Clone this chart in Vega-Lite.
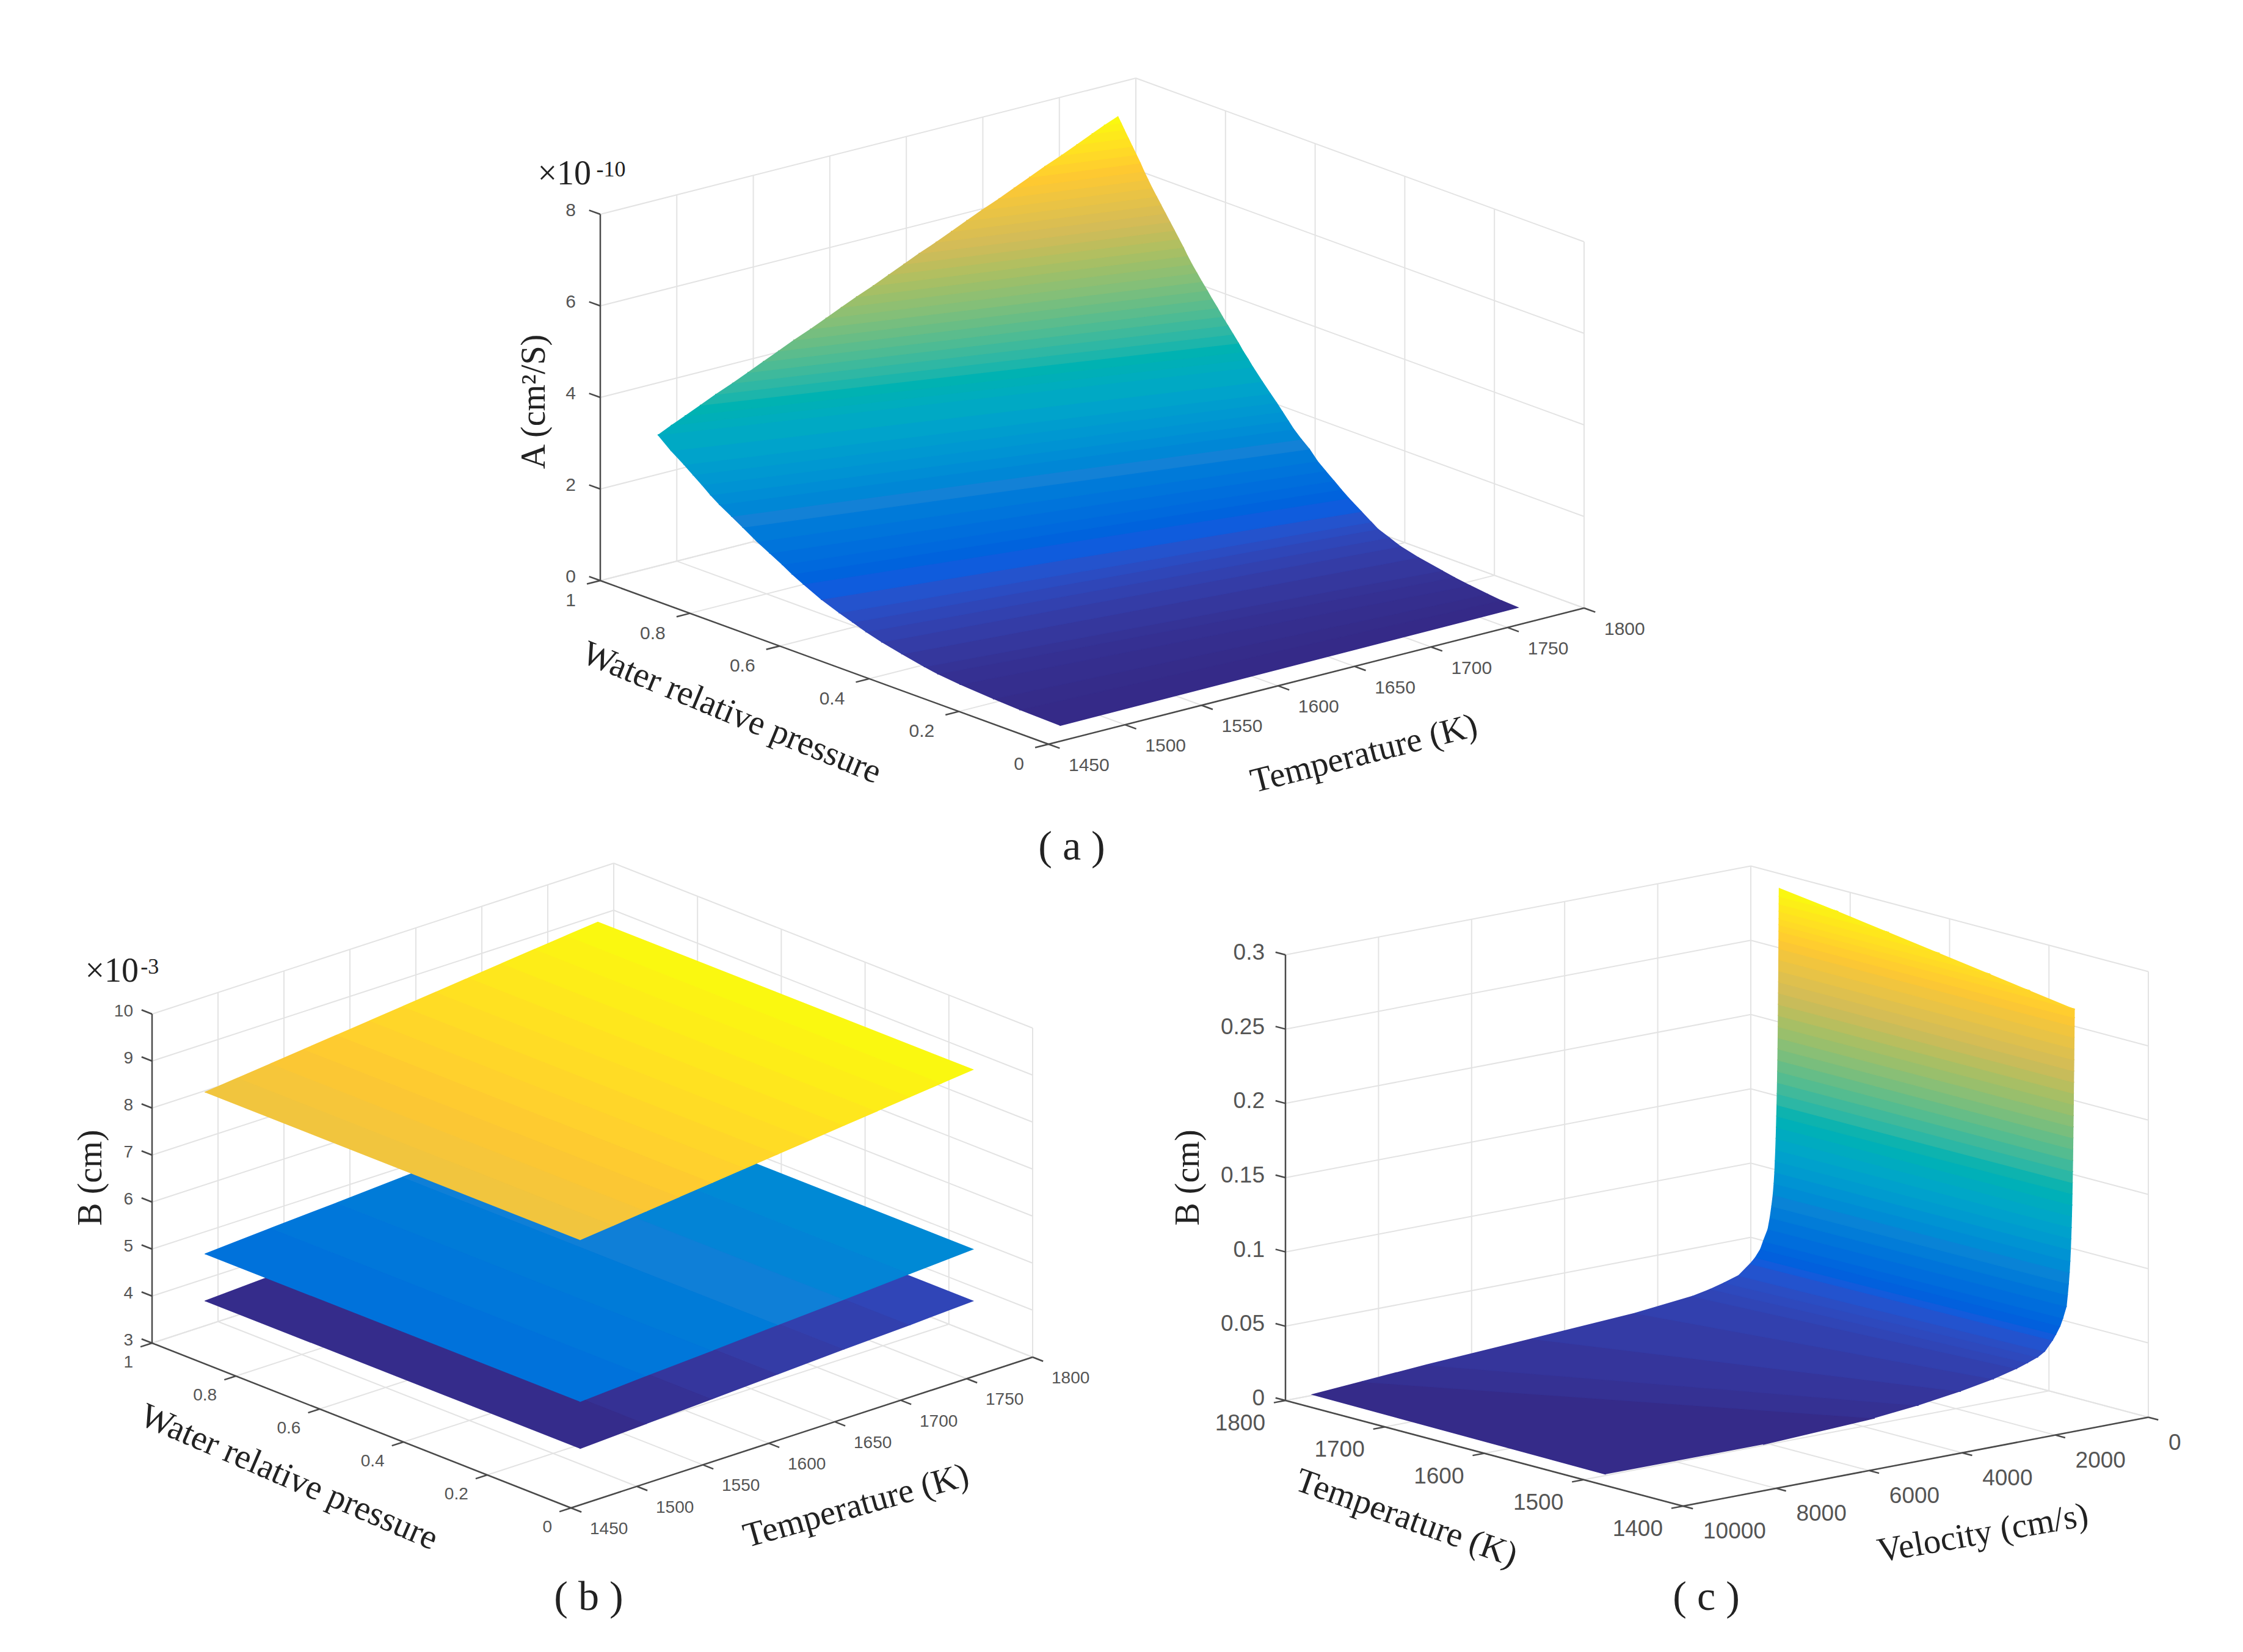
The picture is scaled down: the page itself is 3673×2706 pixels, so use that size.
{"$schema":"https://vega.github.io/schema/vega-lite/v6.json","width":3673,"height":2706,"padding":0,"autosize":{"type":"fit","contains":"padding"},"background":"white","config":{"view":{"stroke":null}},
"params":[{"name":"pv","value":{
"a":{"u0":1717,"v0":1219,"ux":877,"vx":-223,"uy":-734,"vy":-268,"vz":600,"x0":1450,"x1":1800,"y0":0,"y1":1,"z0":0,"z1":8,"c0":0,"c1":7.54,"fs":30,"l":{"x":[33,35],"y":[-40,33],"z":[-40,-6]},"n":{"tx":[0.318,-0.324,0,345.7,57],"ty":[-0.255,0.4025,0,22.5,57],"tz":[-0.123,1,0.534,270,56],"e1":[-0.067,1,1.135,0,56],"e2":[0.02,1,1.115,0,36],"cap":[-0.2856,-0.393,0,0,68]}},
"b":{"u0":935,"v0":2470,"ux":756,"vx":-247,"uy":-686,"vy":-270,"vz":539,"x0":1450,"x1":1800,"y0":0,"y1":1,"z0":3,"z1":10,"c0":3.81,"c1":9.14,"fs":28,"l":{"x":[31,35],"y":[-31,32],"z":[-31,-4]},"n":{"tx":[0.343,-0.3027,0,344.3,57],"ty":[-0.242,0.4067,0,23.3,57],"tz":[-0.132,1,0.563,270,56],"e1":[-0.087,1,1.17,0,56],"e2":[-0.005,1,1.145,0,36],"cap":[-0.249,-0.3167,0,0,68]}},
"c":{"u0":2756,"v0":2467,"ux":762,"vx":-145.5,"uy":-651,"vy":-173,"vz":730,"x0":10000,"x1":0,"y0":1400,"y1":1800,"z0":0,"z1":0.3,"c0":0.0085,"c1":0.2907,"fs":37,"l":{"x":[33,42],"y":[-33,38],"z":[-34,-3]},"n":{"tx":[0.2456,-0.4667,0,350,57],"ty":[-0.4034,0.2237,0,19.5,57],"tz":[-0.2087,1,0.5416,270,56],"cap":[-0.402,-0.529,0,0,68]}}
}}],
"layer":[
{"data":{"values":[
{"g":"a","k":"x","val":1450},{"g":"a","k":"x","val":1500},{"g":"a","k":"x","val":1550},{"g":"a","k":"x","val":1600},{"g":"a","k":"x","val":1650},{"g":"a","k":"x","val":1700},{"g":"a","k":"x","val":1750},{"g":"a","k":"x","val":1800},
{"g":"a","k":"y","val":0},{"g":"a","k":"y","val":0.2},{"g":"a","k":"y","val":0.4},{"g":"a","k":"y","val":0.6},{"g":"a","k":"y","val":0.8},{"g":"a","k":"y","val":1},
{"g":"a","k":"z","val":0},{"g":"a","k":"z","val":2},{"g":"a","k":"z","val":4},{"g":"a","k":"z","val":6},{"g":"a","k":"z","val":8},
{"g":"b","k":"x","val":1450},{"g":"b","k":"x","val":1500},{"g":"b","k":"x","val":1550},{"g":"b","k":"x","val":1600},{"g":"b","k":"x","val":1650},{"g":"b","k":"x","val":1700},{"g":"b","k":"x","val":1750},{"g":"b","k":"x","val":1800},
{"g":"b","k":"y","val":0},{"g":"b","k":"y","val":0.2},{"g":"b","k":"y","val":0.4},{"g":"b","k":"y","val":0.6},{"g":"b","k":"y","val":0.8},{"g":"b","k":"y","val":1},
{"g":"b","k":"z","val":3},{"g":"b","k":"z","val":4},{"g":"b","k":"z","val":5},{"g":"b","k":"z","val":6},{"g":"b","k":"z","val":7},{"g":"b","k":"z","val":8},{"g":"b","k":"z","val":9},{"g":"b","k":"z","val":10},
{"g":"c","k":"x","val":10000},{"g":"c","k":"x","val":8000},{"g":"c","k":"x","val":6000},{"g":"c","k":"x","val":4000},{"g":"c","k":"x","val":2000},{"g":"c","k":"x","val":0},
{"g":"c","k":"y","val":1400},{"g":"c","k":"y","val":1500},{"g":"c","k":"y","val":1600},{"g":"c","k":"y","val":1700},{"g":"c","k":"y","val":1800},
{"g":"c","k":"z","val":0},{"g":"c","k":"z","val":0.05},{"g":"c","k":"z","val":0.1},{"g":"c","k":"z","val":0.15},{"g":"c","k":"z","val":0.2},{"g":"c","k":"z","val":0.25},{"g":"c","k":"z","val":0.3}
]},
"transform":[
{"calculate":"pv[datum.g]","as":"V"},
{"calculate":"''+datum.val","as":"label"},
{"calculate":"datum.k=='x'?(datum.val-datum.V.x0)/(datum.V.x1-datum.V.x0):datum.k=='y'?(datum.val-datum.V.y0)/(datum.V.y1-datum.V.y0):(datum.val-datum.V.z0)/(datum.V.z1-datum.V.z0)","as":"f"},
{"calculate":"datum.k=='x'?datum.f:0","as":"ax"},
{"calculate":"datum.k=='x'?0:datum.k=='y'?datum.f:1","as":"ay"},
{"calculate":"datum.k=='z'?datum.f:0","as":"az"},
{"calculate":"datum.k=='x'?datum.f:1","as":"bx"},
{"calculate":"datum.k=='x'?1:datum.k=='y'?datum.f:1","as":"by"},
{"calculate":"datum.k=='x'?1:datum.k=='y'?datum.f:0","as":"cy"},
{"calculate":"datum.k=='z'?datum.f:1","as":"cz"},
{"calculate":"datum.k=='y'?-0.025:datum.ax","as":"dx"},
{"calculate":"datum.k=='x'?-0.025:datum.k=='z'?1.025:datum.ay","as":"dy"},
{"calculate":"datum.V.u0+datum.V.ux*datum.ax+datum.V.uy*datum.ay","as":"ua"},
{"calculate":"datum.V.v0+datum.V.vx*datum.ax+datum.V.vy*datum.ay-datum.V.vz*datum.az","as":"va"},
{"calculate":"datum.V.u0+datum.V.ux*datum.bx+datum.V.uy*datum.by","as":"ub"},
{"calculate":"datum.V.v0+datum.V.vx*datum.bx+datum.V.vy*datum.by-datum.V.vz*datum.az","as":"vb"},
{"calculate":"datum.V.u0+datum.V.ux*datum.bx+datum.V.uy*datum.cy","as":"uc"},
{"calculate":"datum.V.v0+datum.V.vx*datum.bx+datum.V.vy*datum.cy-datum.V.vz*datum.cz","as":"vc"},
{"calculate":"datum.V.u0+datum.V.ux*datum.dx+datum.V.uy*datum.dy","as":"ud"},
{"calculate":"datum.V.v0+datum.V.vx*datum.dx+datum.V.vy*datum.dy-datum.V.vz*datum.az","as":"vd"},
{"calculate":"datum.V.u0+(datum.k=='x'?datum.V.ux:datum.V.uy)","as":"ue"},
{"calculate":"datum.V.v0+(datum.k=='x'?datum.V.vx:datum.V.vy)-(datum.k=='z'?datum.V.vz:0)","as":"ve"},
{"calculate":"datum.ua+datum.V.l[datum.k][0]","as":"lu"},
{"calculate":"datum.va+datum.V.l[datum.k][1]","as":"lv"}
],
"layer":[
{"mark":{"type":"rule","color":"#e3e3e3","strokeWidth":2},"encoding":{"x":{"field":"ua","type":"quantitative","scale":{"domain":[0,3673],"nice":false,"zero":false},"axis":null},"y":{"field":"va","type":"quantitative","scale":{"domain":[2706,0],"nice":false,"zero":false},"axis":null},"x2":{"field":"ub"},"y2":{"field":"vb"}}},
{"mark":{"type":"rule","color":"#e3e3e3","strokeWidth":2},"encoding":{"x":{"field":"ub","type":"quantitative","scale":{"domain":[0,3673],"nice":false,"zero":false},"axis":null},"y":{"field":"vb","type":"quantitative","scale":{"domain":[2706,0],"nice":false,"zero":false},"axis":null},"x2":{"field":"uc"},"y2":{"field":"vc"}}},
{"transform":[{"filter":"datum.f==0"}],"mark":{"type":"rule","color":"#4a4a4a","strokeWidth":2.5},"encoding":{"x":{"field":"ua","type":"quantitative","scale":{"domain":[0,3673],"nice":false,"zero":false},"axis":null},"y":{"field":"va","type":"quantitative","scale":{"domain":[2706,0],"nice":false,"zero":false},"axis":null},"x2":{"field":"ue"},"y2":{"field":"ve"}}},
{"mark":{"type":"rule","color":"#4a4a4a","strokeWidth":2.5},"encoding":{"x":{"field":"ua","type":"quantitative","scale":{"domain":[0,3673],"nice":false,"zero":false},"axis":null},"y":{"field":"va","type":"quantitative","scale":{"domain":[2706,0],"nice":false,"zero":false},"axis":null},"x2":{"field":"ud"},"y2":{"field":"vd"}}},
{"transform":[{"filter":"datum.k=='x'"}],"mark":{"type":"text","align":"left","baseline":"middle","font":"Liberation Sans","color":"#555555"},"encoding":{"x":{"field":"lu","type":"quantitative","scale":{"domain":[0,3673],"nice":false,"zero":false},"axis":null},"y":{"field":"lv","type":"quantitative","scale":{"domain":[2706,0],"nice":false,"zero":false},"axis":null},"text":{"field":"label"},"size":{"field":"V.fs","type":"quantitative","scale":null}}},
{"transform":[{"filter":"datum.k!='x'"}],"mark":{"type":"text","align":"right","baseline":"middle","font":"Liberation Sans","color":"#555555"},"encoding":{"x":{"field":"lu","type":"quantitative","scale":{"domain":[0,3673],"nice":false,"zero":false},"axis":null},"y":{"field":"lv","type":"quantitative","scale":{"domain":[2706,0],"nice":false,"zero":false},"axis":null},"text":{"field":"label"},"size":{"field":"V.fs","type":"quantitative","scale":null}}}
]},
{"data":{"values":[
{"g":"a","m":0.01,"x":[1474,1775,1775,1474],"y":[0.057,0.0625,0.1,0.147],"z":[0,0,0.02,0.02]},
{"g":"a","m":0.035,"x":[1474,1775,1775,1474],"y":[0.147,0.1,0.13,0.206],"z":[0.02,0.02,0.05,0.05]},
{"g":"a","m":0.075,"x":[1474,1775,1775,1474],"y":[0.206,0.13,0.17,0.28],"z":[0.05,0.05,0.1,0.1]},
{"g":"a","m":0.125,"x":[1474,1775,1775,1474],"y":[0.28,0.17,0.205,0.33],"z":[0.1,0.1,0.15,0.15]},
{"g":"a","m":0.175,"x":[1474,1775,1775,1474],"y":[0.33,0.205,0.232,0.36],"z":[0.15,0.15,0.2,0.2]},
{"g":"a","m":0.25,"x":[1474,1775,1775,1474],"y":[0.36,0.232,0.285,0.41],"z":[0.2,0.2,0.3,0.3]},
{"g":"a","m":0.35,"x":[1474,1775,1775,1474],"y":[0.41,0.285,0.325,0.455],"z":[0.3,0.3,0.4,0.4]},
{"g":"a","m":0.45,"x":[1474,1775,1775,1474],"y":[0.455,0.325,0.35,0.49],"z":[0.4,0.4,0.5,0.5]},
{"g":"a","m":0.55,"x":[1474,1775,1775,1474],"y":[0.49,0.35,0.375,0.52],"z":[0.5,0.5,0.6,0.6]},
{"g":"a","m":0.65,"x":[1474,1775,1775,1474],"y":[0.52,0.375,0.39,0.55],"z":[0.6,0.6,0.7,0.7]},
{"g":"a","m":0.775,"x":[1474,1775,1775,1474],"y":[0.55,0.39,0.412,0.59],"z":[0.7,0.7,0.85,0.85]},
{"g":"a","m":0.945,"x":[1474,1775,1775,1474],"y":[0.59,0.412,0.44,0.63],"z":[0.85,0.85,1.04,1.04]},
{"g":"a","m":1.105,"x":[1474,1775,1775,1474],"y":[0.63,0.44,0.457,0.655],"z":[1.04,1.04,1.17,1.17]},
{"g":"a","m":1.235,"x":[1474,1775,1775,1474],"y":[0.655,0.457,0.473,0.677],"z":[1.17,1.17,1.3,1.3]},
{"g":"a","m":1.375,"x":[1474,1775,1775,1474],"y":[0.677,0.473,0.492,0.705],"z":[1.3,1.3,1.45,1.45]},
{"g":"a","m":1.525,"x":[1474,1775,1775,1474],"y":[0.705,0.492,0.51,0.733],"z":[1.45,1.45,1.6,1.6]},
{"g":"a","m":1.7,"x":[1474,1775,1775,1474],"y":[0.733,0.51,0.528,0.765],"z":[1.6,1.6,1.8,1.8]},
{"g":"a","m":1.875,"x":[1474,1775,1775,1474],"y":[0.765,0.528,0.546,0.79],"z":[1.8,1.8,1.95,1.95]},
{"g":"a","m":2.03,"x":[1474,1775,1775,1474],"y":[0.79,0.546,0.563,0.817],"z":[1.95,1.95,2.11,2.11]},
{"g":"a","m":2.18,"x":[1474,1775,1775,1474],"y":[0.817,0.563,0.575,0.837],"z":[2.11,2.11,2.25,2.25]},
{"g":"a","m":2.325,"x":[1474,1775,1775,1474],"y":[0.837,0.575,0.588,0.856],"z":[2.25,2.25,2.4,2.4]},
{"g":"a","m":2.475,"x":[1474,1775,1775,1474],"y":[0.856,0.588,0.601,0.876],"z":[2.4,2.4,2.55,2.55]},
{"g":"a","m":2.625,"x":[1474,1775,1775,1474],"y":[0.876,0.601,0.615,0.896],"z":[2.55,2.55,2.7,2.7]},
{"g":"a","m":2.8,"x":[1474,1775,1775,1474],"y":[0.896,0.615,0.633,0.925],"z":[2.7,2.7,2.9,2.9]},
{"g":"a","m":3.02,"x":[1474,1775,1775,1474],"y":[0.925,0.633,0.654,0.954],"z":[2.9,2.9,3.14,3.14]},
{"g":"a","m":3.205,"x":[1474,1775,1775,1483],"y":[0.954,0.654,0.664,0.955],"z":[3.14,3.14,3.27,3.27]},
{"g":"a","m":3.335,"x":[1483,1775,1775,1492],"y":[0.955,0.664,0.675,0.955],"z":[3.27,3.27,3.4,3.4]},
{"g":"a","m":3.475,"x":[1492,1775,1775,1502],"y":[0.955,0.675,0.686,0.955],"z":[3.4,3.4,3.55,3.55]},
{"g":"a","m":3.625,"x":[1502,1775,1775,1512],"y":[0.955,0.686,0.698,0.955],"z":[3.55,3.55,3.7,3.7]},
{"g":"a","m":3.775,"x":[1512,1775,1775,1523],"y":[0.955,0.698,0.71,0.955],"z":[3.7,3.7,3.85,3.85]},
{"g":"a","m":3.925,"x":[1523,1775,1775,1533],"y":[0.955,0.71,0.722,0.955],"z":[3.85,3.85,4,4]},
{"g":"a","m":4.075,"x":[1533,1775,1775,1543],"y":[0.955,0.722,0.733,0.955],"z":[4,4,4.15,4.15]},
{"g":"a","m":4.225,"x":[1543,1775,1775,1553],"y":[0.955,0.733,0.745,0.955],"z":[4.15,4.15,4.3,4.3]},
{"g":"a","m":4.375,"x":[1553,1775,1775,1563],"y":[0.955,0.745,0.756,0.955],"z":[4.3,4.3,4.45,4.45]},
{"g":"a","m":4.525,"x":[1563,1775,1775,1574],"y":[0.955,0.756,0.768,0.955],"z":[4.45,4.45,4.6,4.6]},
{"g":"a","m":4.675,"x":[1574,1775,1775,1584],"y":[0.955,0.768,0.779,0.955],"z":[4.6,4.6,4.75,4.75]},
{"g":"a","m":4.825,"x":[1584,1775,1775,1594],"y":[0.955,0.779,0.79,0.955],"z":[4.75,4.75,4.9,4.9]},
{"g":"a","m":4.975,"x":[1594,1775,1775,1604],"y":[0.955,0.79,0.8,0.955],"z":[4.9,4.9,5.05,5.05]},
{"g":"a","m":5.125,"x":[1604,1775,1775,1615],"y":[0.955,0.8,0.809,0.955],"z":[5.05,5.05,5.2,5.2]},
{"g":"a","m":5.275,"x":[1615,1775,1775,1625],"y":[0.955,0.809,0.819,0.955],"z":[5.2,5.2,5.35,5.35]},
{"g":"a","m":5.425,"x":[1625,1775,1775,1635],"y":[0.955,0.819,0.829,0.955],"z":[5.35,5.35,5.5,5.5]},
{"g":"a","m":5.575,"x":[1635,1775,1775,1645],"y":[0.955,0.829,0.839,0.955],"z":[5.5,5.5,5.65,5.65]},
{"g":"a","m":5.725,"x":[1645,1775,1775,1656],"y":[0.955,0.839,0.849,0.955],"z":[5.65,5.65,5.8,5.8]},
{"g":"a","m":5.875,"x":[1656,1775,1775,1666],"y":[0.955,0.849,0.859,0.955],"z":[5.8,5.8,5.95,5.95]},
{"g":"a","m":6.025,"x":[1666,1775,1775,1676],"y":[0.955,0.859,0.869,0.955],"z":[5.95,5.95,6.1,6.1]},
{"g":"a","m":6.175,"x":[1676,1775,1775,1686],"y":[0.955,0.869,0.879,0.955],"z":[6.1,6.1,6.25,6.25]},
{"g":"a","m":6.325,"x":[1686,1775,1775,1697],"y":[0.955,0.879,0.888,0.955],"z":[6.25,6.25,6.4,6.4]},
{"g":"a","m":6.475,"x":[1697,1775,1775,1707],"y":[0.955,0.888,0.897,0.955],"z":[6.4,6.4,6.55,6.55]},
{"g":"a","m":6.625,"x":[1707,1775,1775,1717],"y":[0.955,0.897,0.905,0.955],"z":[6.55,6.55,6.7,6.7]},
{"g":"a","m":6.775,"x":[1717,1775,1775,1727],"y":[0.955,0.905,0.914,0.955],"z":[6.7,6.7,6.85,6.85]},
{"g":"a","m":6.925,"x":[1727,1775,1775,1738],"y":[0.955,0.914,0.923,0.955],"z":[6.85,6.85,7,7]},
{"g":"a","m":7.075,"x":[1738,1775,1775,1748],"y":[0.955,0.923,0.932,0.955],"z":[7,7,7.15,7.15]},
{"g":"a","m":7.225,"x":[1748,1775,1775,1758],"y":[0.955,0.932,0.941,0.955],"z":[7.15,7.15,7.3,7.3]},
{"g":"a","m":7.36,"x":[1758,1775,1775,1766],"y":[0.955,0.941,0.948,0.955],"z":[7.3,7.3,7.42,7.42]},
{"g":"a","m":7.48,"x":[1766,1775,1775,1775],"y":[0.955,0.948,0.955,0.955],"z":[7.42,7.42,7.54,7.54]},
{"g":"b","m":3.845,"x":[1476,1526,1526,1476],"y":[0.061,0.061,0.956,0.956],"z":[3.81,3.88,3.88,3.81]},
{"g":"b","m":3.915,"x":[1526,1576,1576,1526],"y":[0.061,0.061,0.956,0.956],"z":[3.88,3.95,3.95,3.88]},
{"g":"b","m":3.985,"x":[1576,1626,1626,1576],"y":[0.061,0.061,0.956,0.956],"z":[3.95,4.02,4.02,3.95]},
{"g":"b","m":4.055,"x":[1626,1676,1676,1626],"y":[0.061,0.061,0.956,0.956],"z":[4.02,4.09,4.09,4.02]},
{"g":"b","m":4.12,"x":[1676,1726,1726,1676],"y":[0.061,0.061,0.956,0.956],"z":[4.09,4.15,4.15,4.09]},
{"g":"b","m":4.185,"x":[1726,1774,1774,1726],"y":[0.061,0.061,0.956,0.956],"z":[4.15,4.22,4.22,4.15]},
{"g":"b","m":4.855,"x":[1476,1526,1526,1476],"y":[0.061,0.061,0.956,0.956],"z":[4.81,4.9,4.9,4.81]},
{"g":"b","m":4.94,"x":[1526,1576,1576,1526],"y":[0.061,0.061,0.956,0.956],"z":[4.9,4.98,4.98,4.9]},
{"g":"b","m":5.025,"x":[1576,1626,1626,1576],"y":[0.061,0.061,0.956,0.956],"z":[4.98,5.07,5.07,4.98]},
{"g":"b","m":5.11,"x":[1626,1676,1676,1626],"y":[0.061,0.061,0.956,0.956],"z":[5.07,5.15,5.15,5.07]},
{"g":"b","m":5.195,"x":[1676,1726,1726,1676],"y":[0.061,0.061,0.956,0.956],"z":[5.15,5.24,5.24,5.15]},
{"g":"b","m":5.28,"x":[1726,1774,1774,1726],"y":[0.061,0.061,0.956,0.956],"z":[5.24,5.32,5.32,5.24]},
{"g":"b","m":8.29,"x":[1476,1501,1501,1476],"y":[0.061,0.061,0.956,0.956],"z":[8.25,8.325,8.325,8.25]},
{"g":"b","m":8.36,"x":[1501,1526,1526,1501],"y":[0.061,0.061,0.956,0.956],"z":[8.325,8.4,8.4,8.325]},
{"g":"b","m":8.44,"x":[1526,1551,1551,1526],"y":[0.061,0.061,0.956,0.956],"z":[8.4,8.475,8.475,8.4]},
{"g":"b","m":8.51,"x":[1551,1576,1576,1551],"y":[0.061,0.061,0.956,0.956],"z":[8.475,8.55,8.55,8.475]},
{"g":"b","m":8.59,"x":[1576,1601,1601,1576],"y":[0.061,0.061,0.956,0.956],"z":[8.55,8.625,8.625,8.55]},
{"g":"b","m":8.66,"x":[1601,1626,1626,1601],"y":[0.061,0.061,0.956,0.956],"z":[8.625,8.7,8.7,8.625]},
{"g":"b","m":8.74,"x":[1626,1651,1651,1626],"y":[0.061,0.061,0.956,0.956],"z":[8.7,8.775,8.775,8.7]},
{"g":"b","m":8.81,"x":[1651,1676,1676,1651],"y":[0.061,0.061,0.956,0.956],"z":[8.775,8.85,8.85,8.775]},
{"g":"b","m":8.89,"x":[1676,1701,1701,1676],"y":[0.061,0.061,0.956,0.956],"z":[8.85,8.925,8.925,8.85]},
{"g":"b","m":8.96,"x":[1701,1726,1726,1701],"y":[0.061,0.061,0.956,0.956],"z":[8.925,9,9,8.925]},
{"g":"b","m":9.03,"x":[1726,1750,1750,1726],"y":[0.061,0.061,0.956,0.956],"z":[9,9.07,9.07,9]},
{"g":"b","m":9.105,"x":[1750,1774,1774,1750],"y":[0.061,0.061,0.956,0.956],"z":[9.07,9.14,9.14,9.07]},
{"g":"c","m":0.0095,"x":[10080,10060,9000,4300,6700],"y":[1474,1770,1770,1474,1474],"z":[0.0088,0.0097,0.012,0.012,0.0086]},
{"g":"c","m":0.0135,"x":[4300,9000,7614,3360],"y":[1474,1770,1770,1474],"z":[0.012,0.012,0.015,0.015]},
{"g":"c","m":0.017,"x":[3360,7614,5340,2450],"y":[1474,1770,1770,1474],"z":[0.015,0.015,0.019,0.019]},
{"g":"c","m":0.021,"x":[2450,5340,3120,1740],"y":[1474,1770,1770,1474],"z":[0.019,0.019,0.023,0.023]},
{"g":"c","m":0.025,"x":[1740,3120,1890,1240],"y":[1474,1770,1770,1474],"z":[0.023,0.023,0.027,0.027]},
{"g":"c","m":0.028,"x":[1240,1890,1500,1010],"y":[1474,1770,1770,1474],"z":[0.027,0.027,0.0295,0.0295]},
{"g":"c","m":0.031,"x":[1010,1500,1210,790],"y":[1474,1770,1770,1474],"z":[0.0295,0.0295,0.032,0.032]},
{"g":"c","m":0.0335,"x":[790,1210,900,640],"y":[1474,1770,1770,1474],"z":[0.032,0.032,0.035,0.035]},
{"g":"c","m":0.038,"x":[640,900,650,470],"y":[1474,1770,1770,1474],"z":[0.035,0.035,0.0415,0.0415]},
{"g":"c","m":0.043,"x":[470,650,540,400],"y":[1474,1770,1770,1474],"z":[0.0415,0.0415,0.045,0.045]},
{"g":"c","m":0.0475,"x":[400,540,430,310],"y":[1474,1770,1770,1474],"z":[0.045,0.045,0.05,0.05]},
{"g":"c","m":0.0525,"x":[310,430,370,250],"y":[1474,1770,1770,1474],"z":[0.05,0.05,0.055,0.055]},
{"g":"c","m":0.059,"x":[250,370,270,175],"y":[1474,1770,1770,1474],"z":[0.055,0.055,0.0625,0.0625]},
{"g":"c","m":0.066,"x":[175,270,225,150],"y":[1474,1770,1770,1474],"z":[0.0625,0.0625,0.07,0.07]},
{"g":"c","m":0.074,"x":[150,225,190,128],"y":[1474,1770,1770,1474],"z":[0.07,0.07,0.0775,0.0775]},
{"g":"c","m":0.081,"x":[128,190,160,110],"y":[1474,1770,1770,1474],"z":[0.0775,0.0775,0.085,0.085]},
{"g":"c","m":0.089,"x":[110,160,140,96],"y":[1474,1770,1770,1474],"z":[0.085,0.085,0.0925,0.0925]},
{"g":"c","m":0.096,"x":[96,140,125,85],"y":[1474,1770,1770,1474],"z":[0.0925,0.0925,0.1,0.1]},
{"g":"c","m":0.104,"x":[85,125,115,76],"y":[1474,1770,1770,1474],"z":[0.1,0.1,0.1075,0.1075]},
{"g":"c","m":0.111,"x":[76,115,105,68],"y":[1474,1770,1770,1474],"z":[0.1075,0.1075,0.115,0.115]},
{"g":"c","m":0.119,"x":[68,105,97,61],"y":[1474,1770,1770,1474],"z":[0.115,0.115,0.1225,0.1225]},
{"g":"c","m":0.126,"x":[61,97,90,55],"y":[1474,1770,1770,1474],"z":[0.1225,0.1225,0.13,0.13]},
{"g":"c","m":0.134,"x":[55,90,84,50],"y":[1474,1770,1770,1474],"z":[0.13,0.13,0.1375,0.1375]},
{"g":"c","m":0.141,"x":[50,84,78,45],"y":[1474,1770,1770,1474],"z":[0.1375,0.1375,0.145,0.145]},
{"g":"c","m":0.149,"x":[45,78,73,41],"y":[1474,1770,1770,1474],"z":[0.145,0.145,0.1525,0.1525]},
{"g":"c","m":0.156,"x":[41,73,68,37],"y":[1474,1770,1770,1474],"z":[0.1525,0.1525,0.16,0.16]},
{"g":"c","m":0.164,"x":[37,68,64,34],"y":[1474,1770,1770,1474],"z":[0.16,0.16,0.1675,0.1675]},
{"g":"c","m":0.171,"x":[34,64,60,31],"y":[1474,1770,1770,1474],"z":[0.1675,0.1675,0.175,0.175]},
{"g":"c","m":0.179,"x":[31,60,57,28],"y":[1474,1770,1770,1474],"z":[0.175,0.175,0.1825,0.1825]},
{"g":"c","m":0.186,"x":[28,57,54,25],"y":[1474,1770,1770,1474],"z":[0.1825,0.1825,0.19,0.19]},
{"g":"c","m":0.194,"x":[25,54,51,22],"y":[1474,1770,1770,1474],"z":[0.19,0.19,0.1975,0.1975]},
{"g":"c","m":0.201,"x":[22,51,49,20],"y":[1474,1770,1770,1474],"z":[0.1975,0.1975,0.205,0.205]},
{"g":"c","m":0.209,"x":[20,49,47,17],"y":[1474,1770,1770,1474],"z":[0.205,0.205,0.2125,0.2125]},
{"g":"c","m":0.216,"x":[17,47,45,14],"y":[1474,1770,1770,1474],"z":[0.2125,0.2125,0.22,0.22]},
{"g":"c","m":0.224,"x":[14,45,43,11],"y":[1474,1770,1770,1474],"z":[0.22,0.22,0.2275,0.2275]},
{"g":"c","m":0.231,"x":[11,43,41,9],"y":[1474,1770,1770,1474],"z":[0.2275,0.2275,0.235,0.235]},
{"g":"c","m":0.239,"x":[9,41,40,6],"y":[1474,1770,1770,1474],"z":[0.235,0.235,0.2425,0.2425]},
{"g":"c","m":0.246,"x":[6,40,38,4],"y":[1474,1770,1770,1474],"z":[0.2425,0.2425,0.25,0.25]},
{"g":"c","m":0.253,"x":[4,38,37,2],"y":[1474,1770,1770,1474],"z":[0.25,0.25,0.2558,0.2558]},
{"g":"c","m":0.2587,"x":[2,37,36,0],"y":[1474,1770,1770,1474],"z":[0.2558,0.2558,0.2616,0.2616]},
{"g":"c","m":0.2638,"x":[0,36,35,0],"y":[1474,1770,1770,1519],"z":[0.2616,0.2616,0.266,0.266]},
{"g":"c","m":0.268,"x":[0,35,34,0],"y":[1519,1770,1770,1559],"z":[0.266,0.266,0.27,0.27]},
{"g":"c","m":0.2725,"x":[0,34,33,0],"y":[1559,1770,1770,1610],"z":[0.27,0.27,0.275,0.275]},
{"g":"c","m":0.2775,"x":[0,33,32,0],"y":[1610,1770,1770,1661],"z":[0.275,0.275,0.28,0.28]},
{"g":"c","m":0.2825,"x":[0,32,31,0],"y":[1661,1770,1770,1712],"z":[0.28,0.28,0.285,0.285]},
{"g":"c","m":0.2878,"x":[0,31,30,30],"y":[1712,1770,1770,1770],"z":[0.285,0.285,0.2907,0.2907]}
]},
"transform":[
{"flatten":["x","y","z"]},
{"calculate":"pv[datum.g]","as":"V"},
{"calculate":"datum.g+'_'+datum.m","as":"id"},
{"calculate":"max(0,(datum.m-datum.V.c0)/(datum.V.c1-datum.V.c0))","as":"c"},
{"calculate":"(datum.x-datum.V.x0)/(datum.V.x1-datum.V.x0)","as":"fx"},
{"calculate":"(datum.y-datum.V.y0)/(datum.V.y1-datum.V.y0)","as":"fy"},
{"calculate":"(datum.z-datum.V.z0)/(datum.V.z1-datum.V.z0)","as":"fz"},
{"calculate":"datum.V.u0+datum.V.ux*datum.fx+datum.V.uy*datum.fy","as":"u"},
{"calculate":"datum.V.v0+datum.V.vx*datum.fx+datum.V.vy*datum.fy-datum.V.vz*datum.fz","as":"v"}
],
"mark":{"type":"line","filled":true,"opacity":1,"fillOpacity":1,"strokeOpacity":1,"strokeWidth":1.5,"interpolate":"linear"},
"encoding":{"x":{"field":"u","type":"quantitative","scale":{"domain":[0,3673],"nice":false,"zero":false},"axis":null},"y":{"field":"v","type":"quantitative","scale":{"domain":[2706,0],"nice":false,"zero":false},"axis":null},"detail":{"field":"id"},"order":{"value":null},
"fill":{"field":"c","type":"quantitative","legend":null,"scale":{"domain":[0,0.125,0.25,0.375,0.5,0.625,0.75,0.875,1],"range":["#352a87","#0f5cdd","#1481d6","#06a4ca","#2eb7a4","#87bf77","#d1bb59","#fec832","#f9fb0e"]}},
"stroke":{"field":"c","type":"quantitative","legend":null,"scale":{"domain":[0,0.125,0.25,0.375,0.5,0.625,0.75,0.875,1],"range":["#352a87","#0f5cdd","#1481d6","#06a4ca","#2eb7a4","#87bf77","#d1bb59","#fec832","#f9fb0e"]}}}},
{"data":{"values":[
{"g":"a","k":"tx","text":"Temperature (K)"},{"g":"a","k":"ty","text":"Water relative pressure"},{"g":"a","k":"tz","text":"A (cm²/S)"},{"g":"a","k":"e1","text":"×10"},{"g":"a","k":"e2","text":"-10"},{"g":"a","k":"cap","text":"( a )"},
{"g":"b","k":"tx","text":"Temperature (K)"},{"g":"b","k":"ty","text":"Water relative pressure"},{"g":"b","k":"tz","text":"B (cm)"},{"g":"b","k":"e1","text":"×10"},{"g":"b","k":"e2","text":"-3"},{"g":"b","k":"cap","text":"( b )"},
{"g":"c","k":"tx","text":"Velocity (cm/s)"},{"g":"c","k":"ty","text":"Temperature (K)"},{"g":"c","k":"tz","text":"B (cm)"},{"g":"c","k":"cap","text":"( c )"}
]},
"transform":[
{"calculate":"pv[datum.g]","as":"V"},
{"calculate":"datum.V.n[datum.k]","as":"P"},
{"calculate":"datum.V.u0+datum.V.ux*datum.P[0]+datum.V.uy*datum.P[1]","as":"u"},
{"calculate":"datum.V.v0+datum.V.vx*datum.P[0]+datum.V.vy*datum.P[1]-datum.V.vz*datum.P[2]","as":"v"},
{"calculate":"datum.P[3]","as":"ang"},
{"calculate":"datum.P[4]","as":"sz"}
],
"mark":{"type":"text","align":"center","baseline":"middle","font":"Liberation Serif","color":"#222222"},
"encoding":{"x":{"field":"u","type":"quantitative","scale":{"domain":[0,3673],"nice":false,"zero":false},"axis":null},"y":{"field":"v","type":"quantitative","scale":{"domain":[2706,0],"nice":false,"zero":false},"axis":null},"text":{"field":"text"},"angle":{"field":"ang","type":"quantitative","scale":null},"size":{"field":"sz","type":"quantitative","scale":null}}}
]}
